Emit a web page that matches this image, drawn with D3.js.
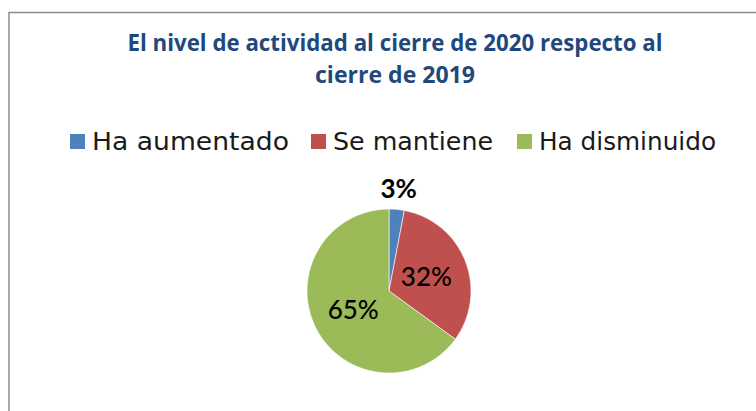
<!DOCTYPE html>
<html>
<head>
<meta charset="utf-8">
<script src="https://cdn.jsdelivr.net/npm/d3@7"></script>
<style>
  body { margin: 0; background: #fff; }
  svg { display: block; }
</style>
</head>
<body>
<div id="chart"></div>
<script>
// data
const categories = ['Ha aumentado', 'Se mantiene', 'Ha disminuido']
const values = [3, 32, 65]
const colors = ['#4F81BD', '#C0504D', '#9BBB59']
const titleLines = ['El nivel de actividad al cierre de 2020 respecto al', 'cierre de 2019']

const width = 756
const height = 411

const svg = d3.select('#chart')
  .append('svg')
  .attr('width', width)
  .attr('height', height)

// chart frame, runs off the right and bottom edge
svg.append('rect')
  .attr('x', 9)
  .attr('y', 12.5)
  .attr('width', 800)
  .attr('height', 450)
  .attr('fill', '#fff')
  .attr('stroke', '#8c8c8c')
  .attr('stroke-width', 1.5)

// title
const title = svg.append('g')
  .attr('font-family', 'Open Sans, Noto Sans, sans-serif')
  .attr('font-weight', 'bold')
  .attr('font-size', 23)
  .attr('fill', '#1F497D')
  .attr('text-anchor', 'middle')

const titleWidths = [535, 160]
title.selectAll('text')
  .data(titleLines)
  .enter().append('text')
  .attr('x', 395)
  .attr('y', (d, i) => 51 + i * 32)
  .attr('textLength', (d, i) => titleWidths[i])
  .attr('lengthAdjust', 'spacingAndGlyphs')
  .text(d => d)

// legend
const legendX = [70, 311, 517]
const legendW = [197, 160, 177]
const legend = svg.append('g')
  .attr('font-family', 'DejaVu Sans, sans-serif')
  .attr('font-size', 24)
  .attr('fill', '#1a1a1a')
  .selectAll('g')
  .data(categories)
  .enter().append('g')
  .attr('transform', (d, i) => `translate(${legendX[i]},134)`)

legend.append('rect')
  .attr('width', 15)
  .attr('height', 15)
  .attr('fill', (d, i) => colors[i])

legend.append('text')
  .attr('x', 22)
  .attr('y', 16)
  .attr('textLength', (d, i) => legendW[i])
  .attr('lengthAdjust', 'spacingAndGlyphs')
  .text(d => d)

// pie
const cx = 389
const cy = 291
const r = 82

const pie = d3.pie().sort(null).value(d => d)
const arcs = pie(values)

const arc = d3.arc().innerRadius(0).outerRadius(r)
const innerLabel = d3.arc().innerRadius(r * 0.49).outerRadius(r * 0.49)
const outerLabel = d3.arc().innerRadius(r * 1.25).outerRadius(r * 1.25)

const g = svg.append('g')
  .attr('transform', `translate(${cx},${cy})`)

g.selectAll('path')
  .data(arcs)
  .enter().append('path')
  .attr('d', arc)
  .attr('fill', (d, i) => colors[i])
  .attr('stroke', '#fff')
  .attr('stroke-width', 0.6)

g.selectAll('.label')
  .data(arcs)
  .enter().append('text')
  .attr('class', 'label')
  .attr('transform', d => {
    const p = d.data < 10 ? outerLabel.centroid(d) : innerLabel.centroid(d)
    return `translate(${p[0]},${p[1]})`
  })
  .attr('text-anchor', 'middle')
  .attr('dy', '0.36em')
  .attr('font-family', 'Lato, sans-serif')
  .attr('font-weight', (d) => d.data < 10 ? 'bold' : 500)
  .attr('font-size', 26)
  .attr('fill', '#000')
  .text(d => d.data + '%')
</script>
</body>
</html>
